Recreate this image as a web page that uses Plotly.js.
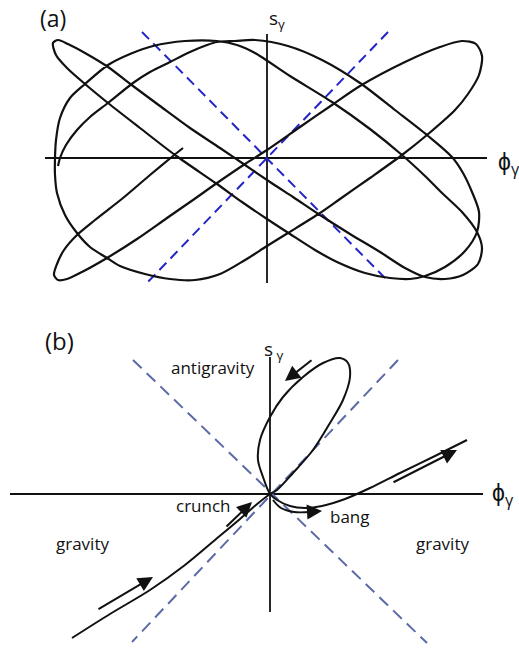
<!DOCTYPE html>
<html>
<head>
<meta charset="utf-8">
<script src="https://cdn.plot.ly/plotly-3.0.1.min.js"></script>
<style>
  body { margin: 0; background: #fff; }
  #plotdiv { width: 519px; height: 652px; }
</style>
</head>
<body>
<div id="plotdiv"></div>
<script>
// panel (a): trajectory in the (phi, s) plane
var aCurveX = [-84, -94, -117, -144, -172, -190, -203, -210, -213, -209, -200, -185, -160, -130, -100, -74, -50, -22, 0, 33,
  65, 93, 138, 173, 195, 209, 215, 212, 201, 188, 160, 135, 103, 73, 53, 21, 0, -22, -47, -72,
  -97, -122, -147, -160, -177, -190, -202, -210, -212, -212, -211, -207, -197, -182, -159, -137, -114, -82, -50, -30,
  -12, 23, 65, 103, 135, 158, 175, 195, 210, 215, 211, 196, 178, 158, 138, 113, 83, 53, 26, 6,
  -22, -47, -77, -107, -134, -159, -182, -199, -209, -214, -211, -200, -182, -159, -127, -92, -50, -25, 0, 23,
  48, 70, 98, 123, 143, 158, 178, 198, 210, 212, 205, 196, 185, 160, 128, 93, 55, 21, -12,
  -32, -50, -60, -77, -97, -117, -134, -159, -177, -190, -201, -207, -209];
var aCurveY = [10, 2, -17, -40, -62, -77, -92, -106, -117, -122, -121, -114, -100, -81, -60, -42, -25, -6, 8, 31,
  53, 72, 96, 111, 117, 114, 102, 83, 64, 48, 23, 3, -20, -41, -55, -75, -88, -102, -116, -122,
  -121, -116, -108, -100, -89, -75, -57, -35, -17, 0, 18, 40, 60, 74, 93, 104, 112, 117, 117, 113,
  105, 82, 56, 29, 3, -18, -35, -54, -74, -90, -106, -117, -121, -119, -110, -94, -76, -57, -39, -26,
  -7, 10, 30, 52, 72, 91, 105, 114, 118, 115, 103, 90, 74, 55, 30, 3, -26, -44, -61, -76,
  -92, -104, -115, -120, -121, -118, -109, -93, -74, -54, -34, -15, 1, 23, 48, 75, 98, 112, 118,
  117, 116, 113, 106, 96, 86, 75, 55, 41, 28, 13, 0, -8];
var aAxisX = [-222, 220];
var aAxisY = [124, -125];
var aGuide1X = [-125, 120];
var aGuide1Y = [126, -122];
var aGuide2X = [121, -122];
var aGuide2Y = [126, -127];

// panel (b): crunch -> antigravity loop -> bang
var bCurveX = [-198, -160, -120, -85, -55, -30, -14, 0,
  7, 23, 43, 60, 73, 80, 78, 70, 53, 33, 13, 0, -10, -12, -7, 0,
  7, 20, 35, 52, 75, 100, 130, 165, 197];
var bCurveY = [-144, -120, -96, -71, -46, -25, -11, 0,
  4, 21, 44, 71, 94, 117, 131, 136, 131, 117, 97, 77, 54, 34, 17, 0,
  -6, -12, -14, -12, -5, 6, 21, 38, 54];
var bAxisX = [-260, 213];
var bAxisY = [137, -118];
var bGuide1X = [-137, 157];
var bGuide1Y = [134, -149];
var bGuide2X = [128, -138];
var bGuide2Y = [134, -148];
var bBangX = [3, 11, 24, 40];
var bBangY = [-6, -14, -18, -18];
var bArrowTailX = [-173, -45, 43, 122, 36];
var bArrowTailY = [-116, -34, 135, 11, -18];
var bArrowHeadX = [-117, -18, 15, 187, 52];
var bArrowHeadY = [-83, -8, 113, 44, -17];
var bLabels = ['antigravity', 'crunch', 'bang', 'gravity', 'gravity'];
var bLabelX = [-57, -67, 80, -188, 172];
var bLabelY = [127, -11, -22, -49, -49];

var ink = '#111111';
var font = 'Open Sans, Liberation Sans, sans-serif';

function line(x, y, xa, ya, style){
  return {
    x: x, y: y, xaxis: xa, yaxis: ya,
    mode: 'lines', type: 'scatter', hoverinfo: 'skip',
    line: style
  };
}

var data = [
  line([aAxisX[0], aAxisX[1]], [0, 0], 'x', 'y', {color: ink, width: 1.8}),
  line([0, 0], [aAxisY[0], aAxisY[1]], 'x', 'y', {color: ink, width: 1.8}),
  line(aGuide1X, aGuide1Y, 'x', 'y', {color: '#2424c8', width: 2, dash: '10px,6px'}),
  line(aGuide2X, aGuide2Y, 'x', 'y', {color: '#2424c8', width: 2, dash: '10px,6px'}),
  line(aCurveX, aCurveY, 'x', 'y', {color: ink, width: 2.2, shape: 'spline', smoothing: 0.8}),

  line([bAxisX[0], bAxisX[1]], [0, 0], 'x2', 'y2', {color: ink, width: 1.8}),
  line([0, 0], [bAxisY[0], bAxisY[1]], 'x2', 'y2', {color: ink, width: 1.8}),
  line(bGuide1X, bGuide1Y, 'x2', 'y2', {color: '#5c6aa6', width: 2, dash: '12px,7px'}),
  line(bGuide2X, bGuide2Y, 'x2', 'y2', {color: '#5c6aa6', width: 2, dash: '12px,7px'}),
  line(bCurveX, bCurveY, 'x2', 'y2', {color: ink, width: 2, shape: 'spline', smoothing: 0.9}),
  line(bBangX, bBangY, 'x2', 'y2', {color: ink, width: 2, shape: 'spline', smoothing: 1})
];

var annotations = [];
function label(text, x, y, xa, ya, size, anchor){
  annotations.push({
    text: text, x: x, y: y, xref: xa, yref: ya, showarrow: false,
    xanchor: anchor || 'center', yanchor: 'middle',
    font: {family: font, size: size, color: ink}
  });
}

label('(a)', -214, 140, 'x', 'y', 23);
label('s<sub>γ</sub>', 0, 139, 'x', 'y', 19, 'left');
label('ϕ<sub>γ</sub>', 229, -4, 'x', 'y', 23, 'left');

label('(b)', -211, 154, 'x2', 'y2', 24);
label('s<sub> γ</sub>', -8, 144, 'x2', 'y2', 19, 'left');
label('ϕ<sub>γ</sub>', 220, 1, 'x2', 'y2', 23, 'left');
for (var i = 0; i < bLabels.length; i++) {
  label(bLabels[i], bLabelX[i], bLabelY[i], 'x2', 'y2', 17);
}
for (var j = 0; j < bArrowHeadX.length; j++) {
  annotations.push({
    x: bArrowHeadX[j], y: bArrowHeadY[j], ax: bArrowTailX[j], ay: bArrowTailY[j],
    xref: 'x2', yref: 'y2', axref: 'x2', ayref: 'y2',
    text: '', showarrow: true, arrowhead: 2, arrowsize: 1.5, arrowwidth: 2,
    arrowcolor: ink, standoff: 0, startstandoff: 0
  });
}

var split = 1 - 300 / 652;
var hidden = {visible: false, showgrid: false, zeroline: false, fixedrange: true};

var layout = {
  width: 519, height: 652,
  margin: {l: 0, r: 0, t: 0, b: 0},
  paper_bgcolor: '#ffffff', plot_bgcolor: '#ffffff',
  showlegend: false,
  xaxis: Object.assign({domain: [0, 1], range: [-267, 252], anchor: 'y'}, hidden),
  yaxis: Object.assign({domain: [split, 1], range: [-142, 158], anchor: 'x'}, hidden),
  xaxis2: Object.assign({domain: [0, 1], range: [-270, 249], anchor: 'y2'}, hidden),
  yaxis2: Object.assign({domain: [0, split], range: [-158, 194], anchor: 'x2'}, hidden),
  annotations: annotations
};

Plotly.newPlot('plotdiv', data, layout, {staticPlot: true, displayModeBar: false});
</script>
</body>
</html>
